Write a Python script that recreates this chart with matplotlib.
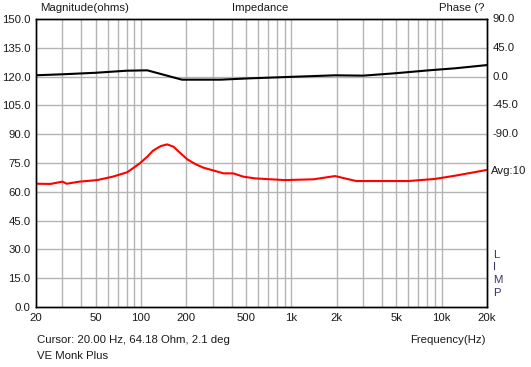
import numpy as np
import matplotlib
matplotlib.use("Agg")
import matplotlib.pyplot as plt

# impedance magnitude (ohms)
mag_freq = [20, 25, 30, 32, 39, 51, 65, 81, 98, 110, 120, 135, 149, 164, 180,
            203, 230, 259, 354, 410, 478, 570, 900, 1400, 1950, 2700, 6000,
            9000, 12300, 20000]
mag_ohm = [64.2, 64.1, 65.3, 64.2, 65.3, 66.1, 67.9, 70.2, 74.8, 78.3, 81.4,
           83.8, 84.7, 83.5, 80.6, 76.9, 74.4, 72.6, 69.6, 69.6, 67.9, 67.0,
           66.1, 66.5, 68.2, 65.6, 65.6, 66.7, 68.4, 71.4]

# phase (deg)
ph_freq = [20, 30, 50, 80, 110, 187, 337, 530, 1050, 1950, 3000, 4900, 8200,
           12300, 20000]
ph_deg = [2.1, 3.6, 6.0, 9.2, 9.8, -4.8, -4.8, -2.7, -0.2, 2.0, 1.5, 5.2, 9.8,
          13.0, 18.0]

x_ticks = [20, 50, 100, 200, 500, 1000, 2000, 5000, 10000, 20000]
x_labels = ["20", "50", "100", "200", "500", "1k", "2k", "5k", "10k", "20k"]
y_ticks = np.arange(0, 151, 15)
ph_ticks = [90, 45, 0, -45, -90]

plt.rcParams['font.family'] = ['Liberation Sans', 'DejaVu Sans']
fs = 8.2
txt_col = '#1a1a1a'

fig = plt.figure(figsize=(5.31, 3.67), dpi=100)
ax = fig.add_axes([36/531, 1-307/367, 451/531, 288/367])

ax.set_xscale('log')
ax.set_xlim(20, 20000)
ax.set_ylim(0, 150)

grid_f = []
for dec in [10, 100, 1000, 10000]:
    for m in range(1, 10):
        f = dec * m
        if 20 < f < 20000:
            grid_f.append(f)
for f in grid_f:
    ax.axvline(f, color='#b4b4b4', lw=1.0, zorder=1)
for y in y_ticks[1:-1]:
    ax.axhline(y, color='#b4b4b4', lw=1.0, zorder=1)

ax.plot(mag_freq, mag_ohm, color='#ff0000', lw=1.5, zorder=3)

ax2 = ax.twinx()
ax2.set_ylim(-360, 90)
ax2.plot(ph_freq, ph_deg, color='black', lw=1.5, zorder=3)
ax2.set_yticks([])

ax.set_xticks(x_ticks)
ax.set_xticklabels(x_labels)
ax.xaxis.set_minor_locator(matplotlib.ticker.NullLocator())
ax.set_yticks(y_ticks)
ax.set_yticklabels(["%.1f" % v for v in y_ticks])
ax.tick_params(length=0, labelsize=fs, colors=txt_col, pad=4)
for sp in list(ax.spines.values()) + list(ax2.spines.values()):
    sp.set_color('black')
    sp.set_linewidth(1.0)

# right-hand phase labels
for p in ph_ticks:
    ax2.text(1.012, p, "%.1f" % p, transform=ax2.get_yaxis_transform(),
             ha='left', va='center', fontsize=fs, color=txt_col)
fig.text(491/531, 1-171/367, "Avg:10", ha='left', va='center', fontsize=fs, color=txt_col)
for i, ch in enumerate("LIMP"):
    fig.text(493/531, 1-(255+12.5*i)/367, ch, ha='left', va='center', fontsize=fs, color='#333366')

fig.text(40/531, 1-8/367, "Magnitude(ohms)", ha='left', va='center', fontsize=fs, color=txt_col)
fig.text(260/531, 1-8/367, "Impedance", ha='center', va='center', fontsize=fs, color=txt_col)
fig.text(484/531, 1-8/367, "Phase (?", ha='right', va='center', fontsize=fs, color=txt_col)
fig.text(37/531, 1-340/367, "Cursor: 20.00 Hz, 64.18 Ohm, 2.1 deg", ha='left', va='center', fontsize=fs, color=txt_col)
fig.text(37/531, 1-356/367, "VE Monk Plus", ha='left', va='center', fontsize=fs, color=txt_col)
fig.text(486/531, 1-340/367, "Frequency(Hz)", ha='right', va='center', fontsize=fs, color=txt_col)

fig.savefig("out.png", dpi=100)
